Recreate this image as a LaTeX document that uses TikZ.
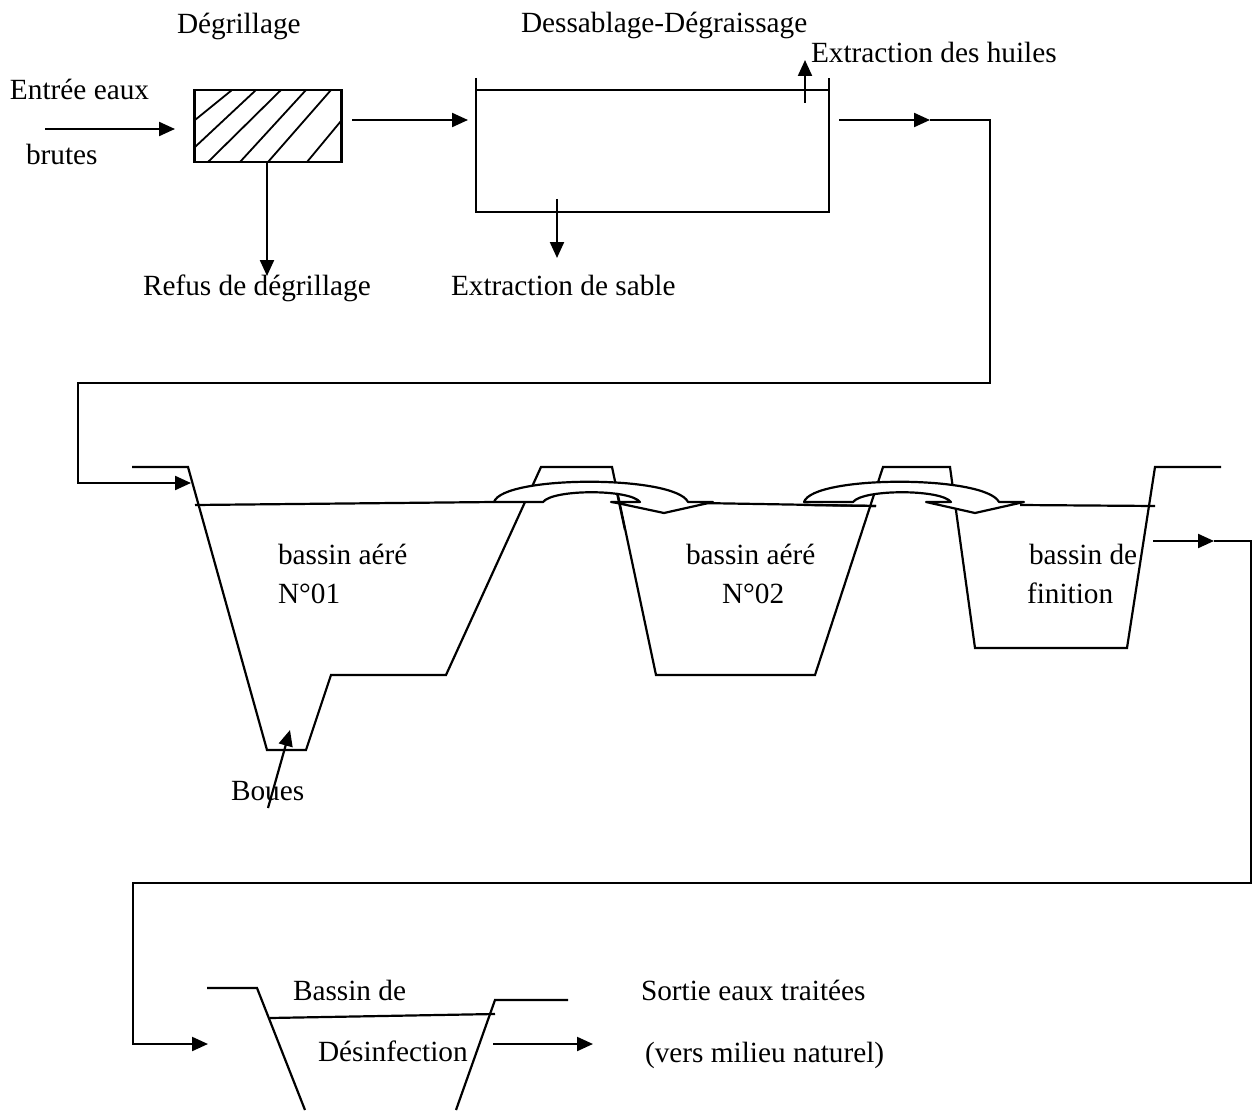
\documentclass[tikz,border=0pt]{standalone}
\usepackage{fontspec}
\setmainfont{Liberation Serif}
\usetikzlibrary{arrows.meta}
\tikzset{
  line/.style={line width=1.1pt,line join=miter},
  flow/.style={line,-{Triangle[length=8pt,width=7pt]}},
  lbl/.style={anchor=base west,inner sep=0pt,outer sep=0pt,font=\fontsize{14.65}{16}\selectfont},
  grid/.style={line,draw,fill=white,minimum width=73.5pt,minimum height=36pt,inner sep=0pt,outer sep=0pt},
  uturn/.style={line,draw,fill=white,line join=round}
}
\begin{document}
\begin{tikzpicture}[x=0.5pt,y=-0.5pt]
\useasboundingbox (0,0) rectangle (1259,1113);
% labels
\node[lbl] (t1) at (177,34) {Dégrillage};
\node[lbl] (t2) at (521,33) {Dessablage-Dégraissage};
\node[lbl] (t3) at (811,63) {Extraction des huiles};
\node[lbl] (t4) at (10,100) {Entrée eaux};
\node[lbl] (t5) at (26,164) {brutes};
\node[lbl] (t6) at (143,295) {Refus de dégrillage};
\node[lbl] (t7) at (451,295) {Extraction de sable};
\node[lbl] (t8) at (278,564) {bassin aéré};
\node[lbl] (t9) at (278,603) {N°01};
\node[lbl] (t10) at (686,564) {bassin aéré};
\node[lbl] (t11) at (722,603) {N°02};
\node[lbl] (t12) at (1029,564) {bassin de};
\node[lbl] (t13) at (1027,603) {finition};
\node[lbl] (t14) at (231,800) {Boues};
\node[lbl] (t15) at (293,1000) {Bassin de};
\node[lbl] (t16) at (641,1000) {Sortie eaux traitées};
\node[lbl] (t17) at (318,1061) {Désinfection};
\node[lbl] (t18) at (645,1062) {(vers milieu naturel)};
% screen
\node[grid] (screen) at (268,126) {};
\draw[line,line width=0.9pt]
  (195,120)--(232,90) (195,147)--(256,90) (208,162)--(281,90)
  (240,162)--(306,90) (268,162)--(331,90) (307,162)--(341,121);
% connector ends
\coordinate (inA) at (45,129);
\coordinate (inB) at (175,129);
\coordinate (scrOut) at (352,120);
\coordinate (tankIn) at (468,120);
\coordinate (refusA) at (267,162);
\coordinate (refusB) at (267,276);
\coordinate (oilA) at (805,103);
\coordinate (oilB) at (805,60);
\coordinate (sandA) at (557,199);
\coordinate (sandB) at (557,258);
\coordinate (tankOut) at (839,120);
\coordinate (tankMid) at (930,120);
\coordinate (b1In) at (191,483);
\coordinate (b3Out) at (1153,541);
\coordinate (b3Mid) at (1214,541);
\coordinate (desIn) at (208,1044);
\coordinate (desOutA) at (493,1044);
\coordinate (desOutB) at (593,1044);
\coordinate (bouesA) at (268,808);
\coordinate (bouesB) at (290,730);
% connectors
\draw[flow] (inA) -- (inB);
\draw[flow] (scrOut) -- (tankIn);
\draw[flow] (refusA) -- (refusB);
\draw[flow] (oilA) -- (oilB);
\draw[flow] (sandA) -- (sandB);
\draw[flow] (tankOut) -- (tankMid);
\draw[line] (tankMid) -| (990,383) -- (78,383) -- (78,483) -- (100,483);
\draw[flow] (100,483) -- (b1In);
\draw[flow] (b3Out) -- (b3Mid);
\draw[line] (b3Mid) -| (1251,883) -- (133,883) -- (133,1044) -- (150,1044);
\draw[flow] (150,1044) -- (desIn);
\draw[flow] (desOutA) -- (desOutB);
\draw[flow] (bouesA) -- (bouesB);
% sand tank
\draw[line] (476,78) -- (476,212) -- (829,212) -- (829,78);
\draw[line] (476,90) -- (829,90);
% basins
\draw[line] (132,467) -- (188,467) -- (267,750) -- (306,750) -- (331,675) -- (446,675)
  -- (541,467) -- (612,467) -- (656,675) -- (815,675) -- (883,467) -- (950,467)
  -- (975,648) -- (1127,648) -- (1155,467) -- (1221,467);
% water level
\draw[line] (195,505) -- (494,502);
\draw[line] (700,503) -- (876,506);
\draw[line] (1020,505) -- (1155,506);
% over-flow arrows
\draw[uturn] (494,502) .. controls (503,475) and (675,475) .. (688,502) -- (713,502) -- (664,513)
  -- (617,503) -- (611,502) -- (640,502) .. controls (630,489) and (553,489) .. (543,502) -- cycle;
\draw[uturn] (804,502) .. controls (813,475) and (985,475) .. (999,502) -- (1024,502) -- (975,513)
  -- (926,502) -- (951,502) .. controls (941,489) and (863,489) .. (853,502) -- cycle;
\draw[line] (617,493) -- (625,530);
\draw[line] (804,505) -- (876,506);
% disinfection basin
\draw[line] (207,988) -- (257,988) -- (305,1110);
\draw[line] (568,1000) -- (495,1000) -- (456,1110);
\draw[line] (270,1018) -- (495,1014);
\end{tikzpicture}
\end{document}
